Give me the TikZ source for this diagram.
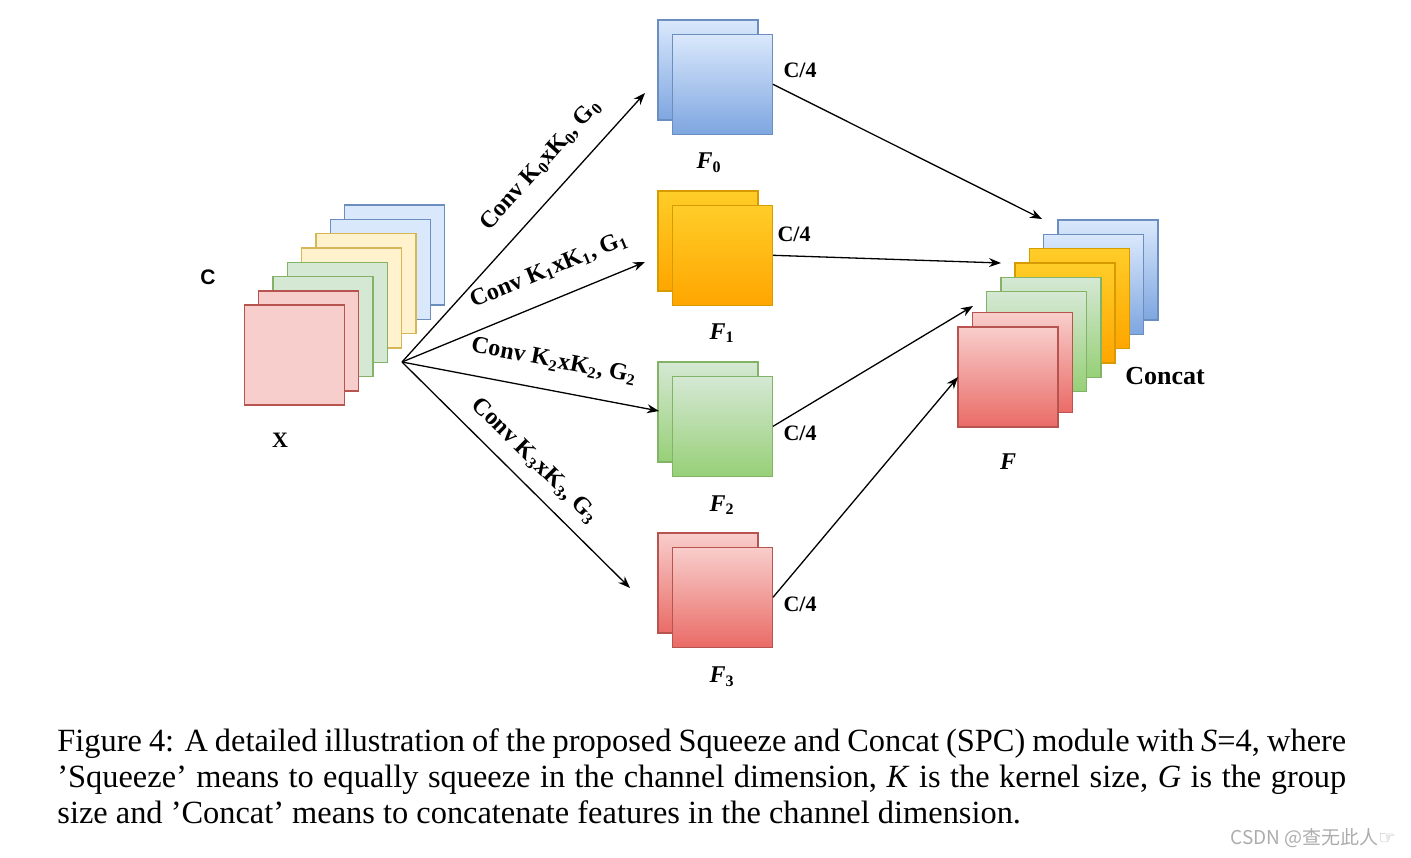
\documentclass[tikz,border=0pt]{standalone}
\usepackage{fontspec}
\setmainfont{Liberation Serif}
\newfontfamily\arialfont{Liberation Sans}
\newfontfamily\cjkfont{Noto Sans CJK SC}
\newfontfamily\dingfont{DejaVu Sans}
\usepackage{tikz}
\usetikzlibrary{positioning,arrows.meta}
\definecolor{redfill}{HTML}{F8CECC}
\definecolor{redline}{HTML}{B85450}
\definecolor{redbot}{HTML}{EA6B66}
\definecolor{greenfill}{HTML}{D5E8D4}
\definecolor{greenline}{HTML}{82B366}
\definecolor{greenbot}{HTML}{97D077}
\definecolor{yellowfill}{HTML}{FFF2CC}
\definecolor{yellowline}{HTML}{D6B656}
\definecolor{bluefill}{HTML}{DAE8FC}
\definecolor{blueline}{HTML}{6C8EBF}
\definecolor{bluebot}{HTML}{7EA6E0}
\definecolor{orangetop}{HTML}{FFCD28}
\definecolor{orangebot}{HTML}{FFA500}
\definecolor{orangeline}{HTML}{D79B00}
\tikzset{
fmap/.style={draw, minimum size=50pt, line width=0.7pt, inner sep=0pt}, % one feature map
redmap/.style={fmap, draw=redline, fill=redfill},
greenmap/.style={fmap, draw=greenline, fill=greenfill},
yellowmap/.style={fmap, draw=yellowline, fill=yellowfill},
bluemap/.style={fmap, draw=blueline, fill=bluefill},
redgrad/.style={fmap, draw=redline, top color=redfill, bottom color=redbot},
greengrad/.style={fmap, draw=greenline, top color=greenfill, bottom color=greenbot},
orangegrad/.style={fmap, draw=orangeline, top color=orangetop, bottom color=orangebot},
bluegrad/.style={fmap, draw=blueline, top color=bluefill, bottom color=bluebot},
convlabel/.style={font=\bfseries\fontsize{12}{14}\selectfont, sloped, above=6pt},
sizelabel/.style={font=\bfseries\fontsize{11}{13}\selectfont},
flabel/.style={font=\bfseries\fontsize{12}{14}\selectfont},
}

\begin{document}
\begin{tikzpicture}[x=0.5pt, y=-0.5pt, on grid, >={Stealth[length=6pt,width=4.5pt]}]
   \useasboundingbox (0,0) rectangle (1411,857);
   % input X
   \node[bluemap] (x7) at (394.5,255) {};
   \node[bluemap] (x6) [below left=7.15pt and 7.15pt of x7] {};
   \node[yellowmap] (x5) [below left=7.15pt and 7.15pt of x6] {};
   \node[yellowmap] (x4) [below left=7.15pt and 7.15pt of x5] {};
   \node[greenmap] (x3) [below left=7.15pt and 7.15pt of x4] {};
   \node[greenmap] (x2) [below left=7.15pt and 7.15pt of x3] {};
   \node[redmap] (x1) [below left=7.15pt and 7.15pt of x2] {};
   \node[redmap] (x0) [below left=7.15pt and 7.15pt of x1] {};
   \node[font=\arialfont\bfseries\fontsize{10.5}{12}\selectfont] (c_lab) at (208,277) {C};
   \node[sizelabel] (x_lab) at (280,440) {X};
   % squeezed groups
   \node[bluegrad] (f0b) at (708,70) {};
   \node[bluegrad] (f0) [below right=7.15pt and 7.15pt of f0b] {};
   \node[orangegrad] (f1b) at (708,241) {};
   \node[orangegrad] (f1) [below right=7.15pt and 7.15pt of f1b] {};
   \node[greengrad] (f2b) at (708,412) {};
   \node[greengrad] (f2) [below right=7.15pt and 7.15pt of f2b] {};
   \node[redgrad] (f3b) at (708,583) {};
   \node[redgrad] (f3) [below right=7.15pt and 7.15pt of f3b] {};
   \node[flabel] (f0_lab) at (709,163) {\textit{F}\textsubscript{0}};
   \node[flabel] (f1_lab) at (722,333) {\textit{F}\textsubscript{1}};
   \node[flabel] (f2_lab) at (722,505) {\textit{F}\textsubscript{2}};
   \node[flabel] (f3_lab) at (722,677) {\textit{F}\textsubscript{3}};
   \node[sizelabel] (s0) at (800,70) {C/4};
   \node[sizelabel] (s1) at (794,234) {C/4};
   \node[sizelabel] (s2) at (800,433) {C/4};
   \node[sizelabel] (s3) at (800,604) {C/4};
   % concatenated F
   \node[bluegrad] (g7) at (1108,270) {};
   \node[bluegrad] (g6) [below left=7.15pt and 7.15pt of g7] {};
   \node[orangegrad] (g5) [below left=7.15pt and 7.15pt of g6] {};
   \node[orangegrad] (g4) [below left=7.15pt and 7.15pt of g5] {};
   \node[greengrad] (g3) [below left=7.15pt and 7.15pt of g4] {};
   \node[greengrad] (g2) [below left=7.15pt and 7.15pt of g3] {};
   \node[redgrad] (g1) [below left=10.5pt and 7.15pt of g2] {};
   \node[redgrad] (g0) [below left=7.15pt and 7.15pt of g1] {};
   \node[font=\bfseries\fontsize{13}{15}\selectfont] (concat_lab) at (1165,376) {Concat};
   \node[flabel] (g_lab) at (1008,462) {\textit{F}};
   % arrows
   \coordinate (src) at (402,362);
   \coordinate (e0) at (645,93);
   \coordinate (e1) at (645,262);
   \coordinate (e2) at (659,411);
   \coordinate (e3) at (630,588);
   \coordinate (c0) at (1042,219);
   \coordinate (c1) at (1001,263);
   \coordinate (c2) at (973,306);
   \coordinate (c3) at (958,377);
   \path[->, line width=0.65pt]
   (src) edge node[convlabel, pos=0.66] {Conv K\textsubscript{0}xK\textsubscript{0}, G\textsubscript{0}} (e0)
   (src) edge node[convlabel, pos=0.65] {Conv K\textsubscript{1}xK\textsubscript{1}, G\textsubscript{1}} (e1)
   (src) edge node[convlabel, pos=0.57] {Conv K\textsubscript{2}xK\textsubscript{2}, G\textsubscript{2}} (e2)
   (src) edge node[convlabel, pos=0.51, above=3pt] {Conv K\textsubscript{3}xK\textsubscript{3}, G\textsubscript{3}} (e3)
   (f0.east) edge (c0)
   (f1.east) edge (c1)
   (f2.east) edge (c2)
   (f3.east) edge (c3);
   % caption
   \node[anchor=north west, inner sep=0pt, text width=644.5pt, align=justify, font=\fontsize{16.2}{18}\selectfont] (caption) at (57,728) {Figure 4: A detailed illustration of the proposed Squeeze and Concat (SPC) module with \textit{S}=4, where\linebreak ’Squeeze’ means to equally squeeze in the channel dimension, \textit{K} is the kernel size, \textit{G} is the group\linebreak size and ’Concat’ means to concatenate features in the channel dimension.};
   \node[anchor=east, inner sep=0pt, text=gray!65, font=\cjkfont\fontsize{9.5}{11}\selectfont] (mark) at (1396,838) {CSDN @查无此人{\dingfont ☞}};
\end{tikzpicture}
\end{document}
